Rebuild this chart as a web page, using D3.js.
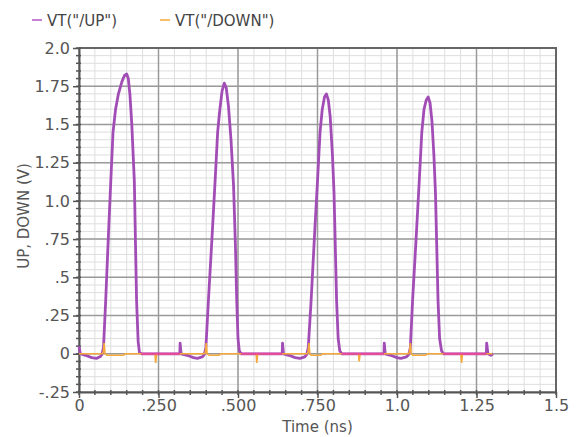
<!DOCTYPE html>
<html>
<head>
<meta charset="utf-8">
<script src="https://cdn.jsdelivr.net/npm/d3@7"></script>
<style>
  body { margin: 0; background: #fff; }
  text { font-family: "DejaVu Sans", Verdana, sans-serif; }
</style>
</head>
<body>
<svg width="577" height="437"></svg>
<script>
// series data (time in ns, volts)
const upTime = [0, 0.004, 0.02, 0.04, 0.055, 0.066, 0.072,
  0.077, 0.084, 0.092, 0.100, 0.107, 0.115, 0.124, 0.135, 0.143, 0.150, 0.155, 0.160, 0.166, 0.174, 0.181, 0.186, 0.190, 0.196,
  0.317, 0.318, 0.321, 0.34, 0.36, 0.372, 0.388, 0.394,
  0.399, 0.407, 0.418, 0.428, 0.436, 0.443, 0.450, 0.457, 0.463, 0.470, 0.478, 0.486, 0.492, 0.496, 0.500, 0.504, 0.510,
  0.639, 0.640, 0.643, 0.66, 0.68, 0.695, 0.71, 0.716,
  0.721, 0.730, 0.740, 0.750, 0.758, 0.765, 0.772, 0.778, 0.784, 0.790, 0.797, 0.802, 0.806, 0.810, 0.815, 0.820, 0.826,
  0.959, 0.960, 0.963, 0.98, 1.0, 1.012, 1.03, 1.037,
  1.042, 1.049, 1.060, 1.070, 1.078, 1.085, 1.092, 1.098, 1.104, 1.110, 1.116, 1.121, 1.125, 1.129, 1.134, 1.140, 1.146,
  1.281, 1.282, 1.286, 1.295, 1.302];
const upVolts = [0.05, 0.0, -0.01, -0.025, -0.03, -0.02, -0.005,
  0.04, 0.35, 0.75, 1.13, 1.45, 1.60, 1.70, 1.78, 1.82, 1.83, 1.80, 1.70, 1.50, 1.13, 0.35, 0.08, 0.01, 0.0,
  0.0, 0.07, 0.0, -0.01, -0.025, -0.03, -0.02, -0.005,
  0.04, 0.35, 0.75, 1.13, 1.45, 1.60, 1.72, 1.77, 1.74, 1.62, 1.40, 1.10, 0.70, 0.35, 0.10, 0.02, 0.0,
  0.0, 0.07, 0.0, -0.01, -0.025, -0.03, -0.02, -0.005,
  0.04, 0.35, 0.75, 1.13, 1.45, 1.60, 1.68, 1.70, 1.66, 1.55, 1.30, 1.05, 0.70, 0.35, 0.10, 0.02, 0.0,
  0.0, 0.07, 0.0, -0.01, -0.025, -0.03, -0.02, -0.005,
  0.04, 0.35, 0.75, 1.13, 1.45, 1.60, 1.66, 1.68, 1.64, 1.52, 1.30, 1.05, 0.70, 0.35, 0.10, 0.02, 0.0,
  0.0, 0.07, 0.0, -0.01, 0.0];

const downTime = [0, 0.074, 0.077, 0.079, 0.082, 0.088, 0.140, 0.146,
  0.239, 0.241, 0.244,
  0.396, 0.398, 0.400, 0.403, 0.41, 0.44, 0.446,
  0.557, 0.559, 0.562,
  0.718, 0.721, 0.723, 0.726, 0.73, 0.76, 0.766,
  0.879, 0.881, 0.884,
  1.037, 1.040, 1.042, 1.045, 1.05, 1.09, 1.096,
  1.201, 1.203, 1.206, 1.300];
const downVolts = [0, 0, 0.02, 0.07, 0.0, -0.01, -0.01, 0,
  0, -0.06, 0,
  0, 0.02, 0.07, 0, -0.01, -0.01, 0,
  0, -0.06, 0,
  0, 0.02, 0.07, 0, -0.01, -0.01, 0,
  0, -0.05, 0,
  0, 0.02, 0.07, 0, -0.01, -0.01, 0,
  0, -0.06, 0, 0];

const xTickValues = [0, 0.25, 0.5, 0.75, 1.0, 1.25, 1.5];
const xTickLabels = ["0", ".250", ".500", ".750", "1.0", "1.25", "1.5"];
const yTickValues = [-0.25, 0, 0.25, 0.5, 0.75, 1.0, 1.25, 1.5, 1.75, 2.0];
const yTickLabels = ["-.25", "0", ".25", ".5", ".75", "1.0", "1.25", "1.5", "1.75", "2.0"];
const legendNames = ['VT("/UP")', 'VT("/DOWN")'];

const svg = d3.select("svg");
const plotLeft = 79, plotRight = 556, plotTop = 48, plotBottom = 392;

const x = d3.scaleLinear().domain([0, 1.5]).range([plotLeft, plotRight]);
const y = d3.scaleLinear().domain([-0.25, 2.0]).range([plotBottom, plotTop]);

const minorX = d3.range(0, 1.5001, 0.05);
const minorY = d3.range(-0.25, 2.0001, 0.05);

// minor grid
svg.append("g").selectAll("line")
  .data(minorX)
  .join("line")
  .attr("x1", d => x(d)).attr("x2", d => x(d))
  .attr("y1", plotTop).attr("y2", plotBottom)
  .attr("stroke", "#dedede").attr("stroke-width", 1);
svg.append("g").selectAll("line")
  .data(minorY)
  .join("line")
  .attr("y1", d => y(d)).attr("y2", d => y(d))
  .attr("x1", plotLeft).attr("x2", plotRight)
  .attr("stroke", "#dedede").attr("stroke-width", 1);

// major grid
svg.append("g").selectAll("line")
  .data(xTickValues)
  .join("line")
  .attr("x1", d => x(d)).attr("x2", d => x(d))
  .attr("y1", plotTop).attr("y2", plotBottom)
  .attr("stroke", "#9a9a9a").attr("stroke-width", 1.5);
svg.append("g").selectAll("line")
  .data(yTickValues)
  .join("line")
  .attr("y1", d => y(d)).attr("y2", d => y(d))
  .attr("x1", plotLeft).attr("x2", plotRight)
  .attr("stroke", "#9a9a9a").attr("stroke-width", 1.5);

// frame (top, right)
svg.append("path")
  .attr("d", `M${plotLeft},${plotTop}H${plotRight}V${plotBottom}`)
  .attr("fill", "none").attr("stroke", "#666").attr("stroke-width", 2);

// axes
const xAxis = d3.axisBottom(x)
  .tickValues(xTickValues)
  .tickFormat((d, i) => xTickLabels[i])
  .tickSize(6).tickSizeOuter(0).tickPadding(2);
const yAxis = d3.axisLeft(y)
  .tickValues(yTickValues)
  .tickFormat((d, i) => yTickLabels[i])
  .tickSize(6).tickSizeOuter(0).tickPadding(3);

const gx = svg.append("g").attr("transform", `translate(0,${plotBottom})`).call(xAxis);
const gy = svg.append("g").attr("transform", `translate(${plotLeft},0)`).call(yAxis);
[gx, gy].forEach(g => {
  g.select(".domain").attr("stroke", "#555").attr("stroke-width", 2);
  g.selectAll(".tick line").attr("stroke", "#555").attr("stroke-width", 1.5);
  g.selectAll(".tick text").attr("fill", "#555").style("font-size", "16px")
    .style("font-family", '"DejaVu Sans", Verdana, sans-serif');
});

// minor ticks
svg.append("g").selectAll("line")
  .data(minorX)
  .join("line")
  .attr("x1", d => x(d)).attr("x2", d => x(d))
  .attr("y1", plotBottom - 2).attr("y2", plotBottom + 3)
  .attr("stroke", "#555").attr("stroke-width", 1.5);
svg.append("g").selectAll("line")
  .data(minorY)
  .join("line")
  .attr("y1", d => y(d)).attr("y2", d => y(d))
  .attr("x1", plotLeft - 3).attr("x2", plotLeft + 2)
  .attr("stroke", "#555").attr("stroke-width", 1.5);

// series
const upData = upTime.map((t, i) => ({ t, v: upVolts[i] }));
const downData = downTime.map((t, i) => ({ t, v: downVolts[i] }));
const line = d3.line().x(d => x(d.t)).y(d => y(d.v));

svg.append("path")
  .datum(upData)
  .attr("fill", "none")
  .attr("stroke", "#a24db6")
  .attr("stroke-width", 2.8)
  .attr("stroke-linejoin", "round")
  .attr("d", line);

svg.append("path")
  .datum(downData)
  .attr("fill", "none")
  .attr("stroke", "#f6a93b")
  .attr("stroke-width", 1.6)
  .attr("d", line);

// where both traces lie on 0 V they render pinkish
svg.append("path")
  .datum(upData)
  .attr("fill", "none")
  .attr("stroke", "#e6479b")
  .attr("stroke-width", 2)
  .attr("d", line.defined(d => Math.abs(d.v) < 0.003));

// axis titles
svg.append("text")
  .attr("x", (plotLeft + plotRight) / 2).attr("y", 432)
  .attr("text-anchor", "middle")
  .attr("fill", "#555").style("font-size", "15px")
  .text("Time (ns)");
svg.append("text")
  .attr("transform", "translate(29,216) rotate(-90)")
  .attr("text-anchor", "middle")
  .attr("fill", "#555").style("font-size", "15px")
  .text("UP, DOWN (V)");

// legend
const legendColors = ["#b55ac4", "#f6a93b"];
const legendX = [32, 160];
const lg = svg.append("g").selectAll("g")
  .data(legendNames)
  .join("g")
  .attr("transform", (d, i) => `translate(${legendX[i]},20)`);
lg.append("line")
  .attr("x1", 0).attr("x2", 10)
  .attr("stroke", (d, i) => legendColors[i]).attr("stroke-width", 1.5);
lg.append("text")
  .attr("x", 15).attr("y", 5.5)
  .attr("fill", "#444").style("font-size", "15px")
  .text(d => d);
</script>
</body>
</html>
